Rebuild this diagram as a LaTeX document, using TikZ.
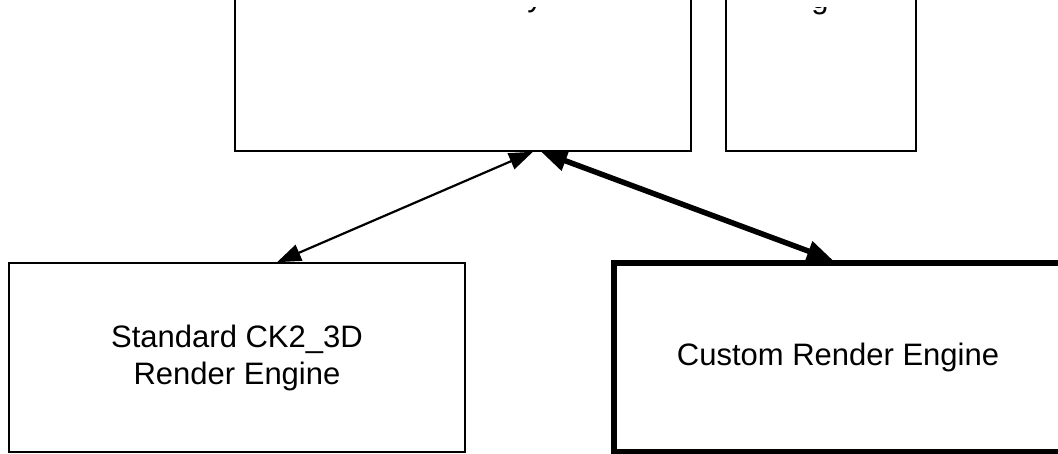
\documentclass[tikz,border=0pt]{standalone}
\usepackage{fontspec}
\setmainfont{Liberation Sans}
\usetikzlibrary{arrows.meta,calc}
\begin{document}
\begin{tikzpicture}[x=1pt,y=-1pt,
  box/.style={draw=black,line width=1.5pt,rectangle,inner sep=0pt,
    font=\fontsize{31}{37}\selectfont,align=center},
  heavybox/.style={box,line width=5.5pt},
  link/.style={line width=2.2pt,{Triangle[length=24pt,width=17pt]}-{Triangle[length=24pt,width=17pt]}},
  heavylink/.style={line width=5.5pt,{Triangle[length=26pt,width=20pt]}-{Triangle[length=26pt,width=20pt]}},
  glyph/.style={font=\fontsize{31}{37}\selectfont,anchor=base,inner sep=0pt}
]
\path[use as bounding box] (0,0) rectangle (1058,454);
\clip (0,0) rectangle (1058,454);

% upper row (tops run off the page)
\node[box,minimum width=456pt,minimum height=211pt] (lib) at (463,45.5) {};
\node[box,minimum width=190pt,minimum height=211pt] (mgr) at (821,45.5) {};
% only the descenders of the upper labels remain below the cut
\begin{scope}
  \clip (0,8) rectangle (1058,40);
  \node[glyph] (libtxt) at (535,7) {y};
  \node[glyph] (mgrtxt) at (820,8.5) {g};
\end{scope}

% lower row
\node[box,minimum width=456pt,minimum height=189pt] (std) at (237,357.5)
  {Standard CK2\_3D\\Render Engine};
\node[heavybox,minimum width=448pt,minimum height=189pt] (cust) at (838,357.5)
  {Custom Render Engine};

% connectors
\draw[link] ([xshift=40pt]std.north) -- ([xshift=70pt]lib.south);
\draw[heavylink] ([xshift=78pt]lib.south) -- ([xshift=-5pt]cust.north);
\end{tikzpicture}
\end{document}
